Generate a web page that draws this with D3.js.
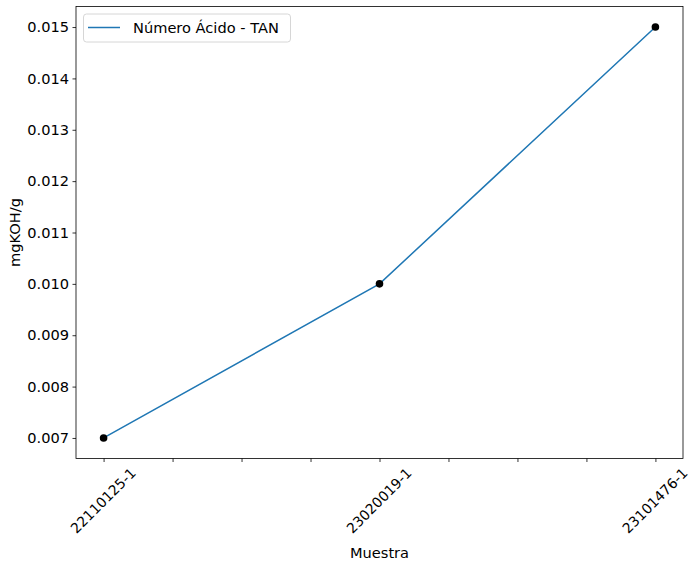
<!DOCTYPE html>
<html><head><meta charset="utf-8">
<script src="https://cdn.jsdelivr.net/npm/d3@7"></script>
<style>body{margin:0;background:#fff}svg{display:block}text{font-family:"DejaVu Sans",sans-serif;fill:#000}</style>
</head><body><svg id="c" width="691" height="566"></svg>
<script>
const categories = ["22110125-1","23020019-1","23101476-1"];
const values = [0.007, 0.010, 0.015];
const yTicks = [0.007,0.008,0.009,0.010,0.011,0.012,0.013,0.014,0.015];
const xMinorTicks = [0,0.25,0.5,0.75,1,1.25,1.5,1.75,2];
const seriesName = "Número Ácido - TAN";
const xTitle = "Muestra", yTitle = "mgKOH/g";

const svg = d3.select("#c");
const L = 76, R = 683, T = 6.5, B = 458.5;
const fs = 14.6, fsx = 14;
const x = d3.scaleLinear().domain([-0.1, 2.1]).range([L, R]);
const y = d3.scaleLinear().domain([0.0066, 0.0154]).range([B, T]);

// y axis
const ya = svg.append("g").attr("transform", `translate(${L},0)`)
  .call(d3.axisLeft(y).tickValues(yTicks).tickFormat(d3.format(".3f")).tickSize(3.5).tickPadding(3.5));
ya.select(".domain").remove();
ya.selectAll("line").attr("stroke","#000").attr("stroke-width",0.8);
ya.selectAll("text").style("font-size", fs+"px").style("font-family","DejaVu Sans").attr("fill","#000");

// x axis
const xa = svg.append("g").attr("transform", `translate(0,${B})`)
  .call(d3.axisBottom(x).tickValues(xMinorTicks).tickFormat(d => Number.isInteger(d) ? categories[d] : "").tickSize(3.5).tickPadding(3.5));
xa.select(".domain").remove();
xa.selectAll("line").attr("stroke","#000").attr("stroke-width",0.8);
xa.selectAll("text").style("font-size", fsx+"px").style("font-family","DejaVu Sans").attr("fill","#000")
  .each(function(){
    const t = d3.select(this);
    if (!t.text()) return;
    const len = this.getComputedTextLength();
    const h = fsx;
    const W = (len + h) * Math.SQRT1_2;
    const top = 7;
    t.attr("y", null).attr("dy", null).attr("text-anchor","middle").attr("dominant-baseline","central")
     .attr("transform", `translate(-1,${top + W/2}) rotate(-45)`);
  });

// spines
svg.append("rect").attr("x",L).attr("y",T).attr("width",R-L).attr("height",B-T)
  .attr("fill","none").attr("stroke","#000").attr("stroke-width",0.8);

// line
const idx = values.map((v,i)=>i);
svg.append("path").datum(idx)
  .attr("d", d3.line().x(i=>x(i)).y(i=>y(values[i])))
  .attr("fill","none").attr("stroke","#1f77b4").attr("stroke-width",1.5);
svg.selectAll("circle.pt").data(idx).enter().append("circle")
  .attr("cx", i=>x(i)).attr("cy", i=>y(values[i])).attr("r",3.8).attr("fill","#000");

// axis titles
svg.append("text").attr("x",(L+R)/2).attr("y",557.5).attr("text-anchor","middle").style("font-size",fs+"px").text(xTitle);
svg.append("text").attr("transform",`translate(20,${(T+B)/2}) rotate(-90)`).attr("text-anchor","middle").style("font-size",fs+"px").text(yTitle);

// legend
const lg = svg.append("g");
lg.append("rect").attr("x",83.5).attr("y",14).attr("width",207).attr("height",28).attr("rx",3)
  .attr("fill","#fff").attr("fill-opacity",0.8).attr("stroke","#cccccc").attr("stroke-width",0.8);
lg.append("line").attr("x1",88).attr("x2",120).attr("y1",27.5).attr("y2",27.5).attr("stroke","#1f77b4").attr("stroke-width",1.5);
lg.append("text").attr("x",133).attr("y",33).style("font-size",fs+"px").text(seriesName);
</script></body></html>
